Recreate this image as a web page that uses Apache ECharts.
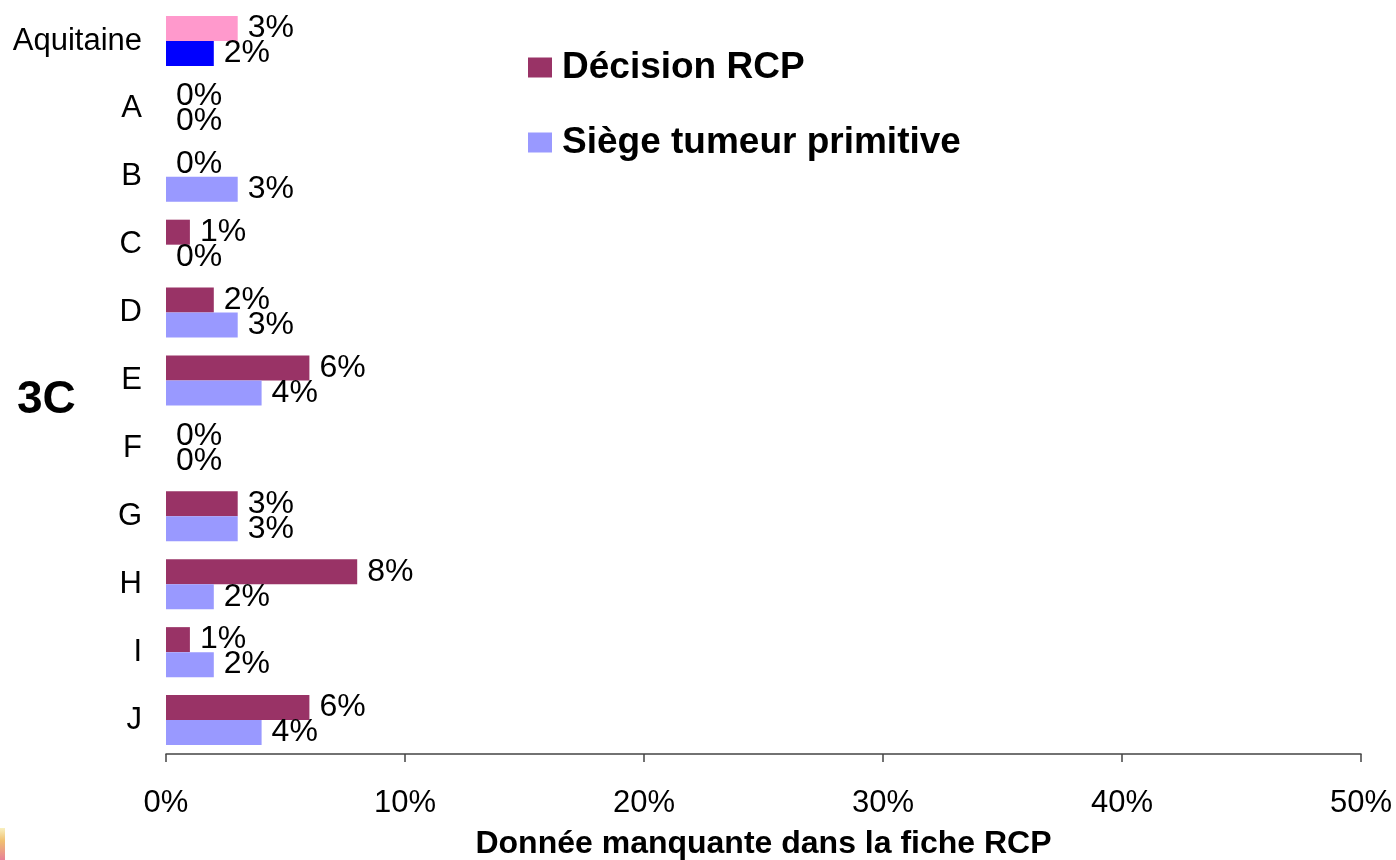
<!DOCTYPE html>
<html>
<head>
<meta charset="utf-8">
<style>
    html, body { margin: 0; padding: 0; background: #fff; }
    #chart { width: 1396px; height: 860px; }
</style>
<script src="https://cdn.jsdelivr.net/npm/echarts@6/dist/echarts.min.js"></script>
</head>
<body>
<div id="chart"></div>
<script>
// categories, top to bottom
var categories = ['Aquitaine', 'A', 'B', 'C', 'D', 'E', 'F', 'G', 'H', 'I', 'J']
// % de données manquantes
var decisionRcp = [3, 0, 0, 1, 2, 6, 0, 3, 8, 1, 6]
var siegeTumeur = [2, 0, 3, 0, 3, 4, 0, 3, 2, 2, 4]
var seriesNames = ['Décision RCP', 'Siège tumeur primitive']
var xTicks = [0, 10, 20, 30, 40, 50]

var font = '"Liberation Sans", Arial, sans-serif'

// la ligne Aquitaine a ses propres couleurs
function colorize(values, normal, special) {
    return values.map(function (v, i) {
        if (categories[i] === 'Aquitaine') {
            return { value: v, itemStyle: { color: special } }
        }
        return { value: v, itemStyle: { color: normal } }
    })
}

var myChart = echarts.init(document.getElementById('chart'))

var barLabel = {
    show: true,
    position: 'right',
    distance: 10,
    formatter: '{c}%',
    color: '#000',
    fontFamily: font,
    fontSize: 32
}

var option = {
    animation: false,
    backgroundColor: '#fff',
    grid: {
        left: 166,
        right: 35,
        top: 7,
        bottom: 106,
        containLabel: false,
        outerBoundsMode: 'none'
    },
    legend: {
        orient: 'vertical',
        left: 523,
        top: 44,
        itemWidth: 24,
        itemHeight: 20,
        itemGap: 38,
        icon: 'rect',
        data: seriesNames,
        textStyle: {
            color: '#000',
            fontFamily: font,
            fontSize: 37,
            fontWeight: 'bold',
            padding: [0, 0, 0, 5]
        }
    },
    xAxis: {
        type: 'value',
        min: xTicks[0],
        max: xTicks[xTicks.length - 1],
        interval: xTicks[1] - xTicks[0],
        name: 'Donnée manquante dans la fiche RCP',
        nameLocation: 'middle',
        nameGap: 74,
        nameTextStyle: {
            color: '#000',
            fontFamily: font,
            fontSize: 32,
            fontWeight: 'bold'
        },
        axisLine: { show: true, lineStyle: { color: '#444', width: 1.5 } },
        axisTick: { show: true, length: 8, lineStyle: { color: '#444', width: 1.5 } },
        axisLabel: {
            formatter: '{value}%',
            color: '#000',
            fontFamily: font,
            fontSize: 31,
            margin: 34
        },
        splitLine: { show: false }
    },
    yAxis: {
        type: 'category',
        data: categories,
        inverse: true,
        axisLine: { show: false },
        axisTick: { show: false },
        axisLabel: {
            color: '#000',
            fontFamily: font,
            fontSize: 31,
            margin: 24
        }
    },
    series: [
        {
            name: seriesNames[0],
            type: 'bar',
            data: colorize(decisionRcp, '#993366', '#FF99CC'),
            itemStyle: { color: '#993366' },
            barWidth: 25,
            barGap: '0%',
            label: barLabel
        },
        {
            name: seriesNames[1],
            type: 'bar',
            data: colorize(siegeTumeur, '#9999FF', '#0000FF'),
            itemStyle: { color: '#9999FF' },
            barWidth: 25,
            barGap: '0%',
            label: barLabel
        }
    ],
    graphic: [
        {
            type: 'text',
            left: 17,
            top: 377,
            style: {
                text: '3C',
                fill: '#000',
                font: 'bold 46px ' + font
            }
        },
        {
            type: 'rect',
            left: 0,
            top: 828,
            shape: { width: 5, height: 32 },
            style: {
                fill: new echarts.graphic.LinearGradient(0, 0, 0, 1, [
                    { offset: 0, color: '#f8f0c0' },
                    { offset: 0.4, color: '#f0c070' },
                    { offset: 1, color: '#e88098' }
                ])
            }
        }
    ]
}

myChart.setOption(option)
window.addEventListener('resize', function () {
    myChart.resize()
})
</script>
</body>
</html>
